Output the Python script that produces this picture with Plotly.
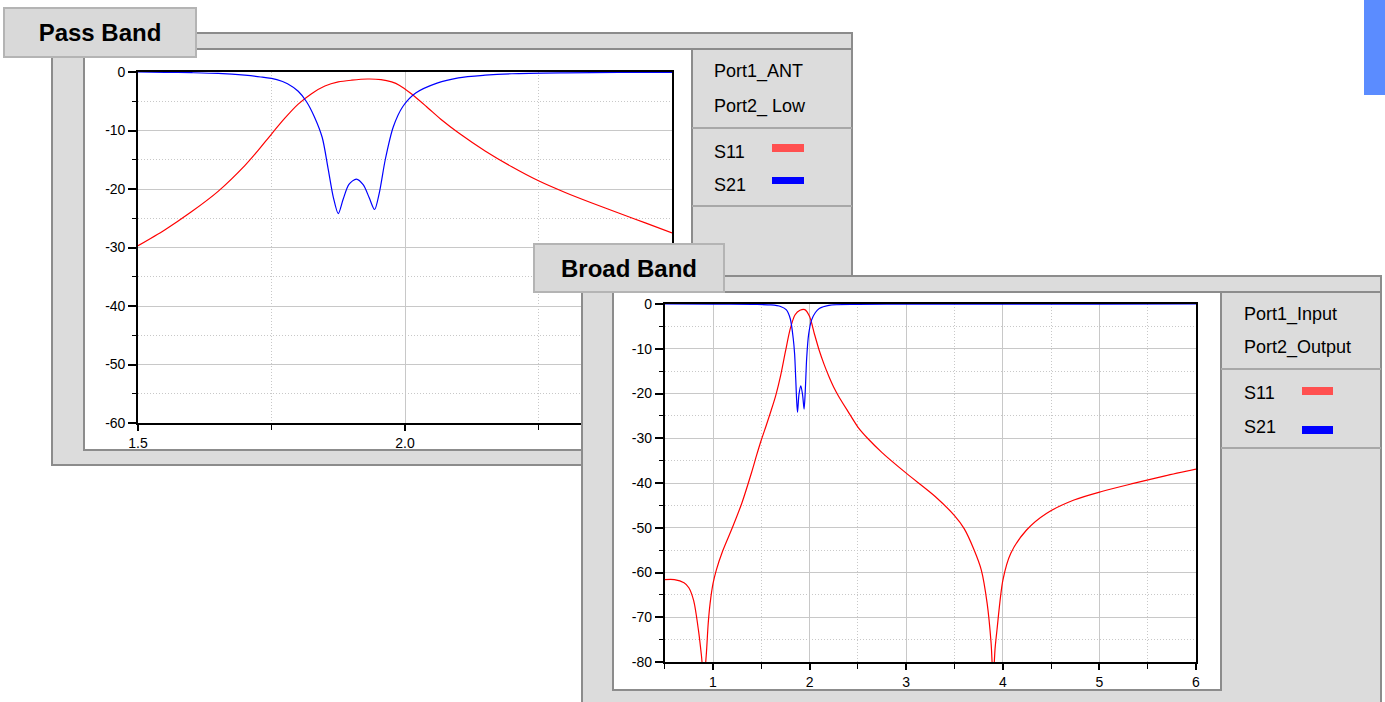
import plotly.graph_objects as go

W, H = 1385, 702

# ---- Pass band sweep (GHz / dB) ----
pb_s11_freq = [1.50, 1.55, 1.60, 1.65, 1.70, 1.725, 1.75, 1.775, 1.80, 1.825, 1.85, 1.875,
               1.90, 1.93, 1.955, 1.975, 1.99, 2.01, 2.04, 2.07, 2.10, 2.15, 2.20, 2.25,
               2.30, 2.35, 2.40, 2.45, 2.50]
pb_s11_db = [-29.7, -27.0, -23.9, -20.4, -16.0, -13.4, -10.6, -7.9, -5.5, -3.7, -2.4, -1.7,
             -1.4, -1.2, -1.3, -1.7, -2.3, -3.6, -5.9, -8.3, -10.4, -13.5, -16.2, -18.6,
             -20.6, -22.4, -24.1, -25.8, -27.5]

pb_s21_freq = [1.50, 1.55, 1.60, 1.65, 1.70, 1.73, 1.76, 1.78, 1.80, 1.815, 1.83, 1.845,
               1.856, 1.866, 1.875, 1.884, 1.895, 1.909, 1.922, 1.933, 1.943, 1.952, 1.963,
               1.978, 1.996, 2.02, 2.06, 2.10, 2.15, 2.20, 2.30, 2.40, 2.50]
pb_s21_db = [0.0, -0.05, -0.12, -0.25, -0.55, -0.85, -1.3, -2.0, -3.3, -5.0, -7.6, -11.2,
             -16.5, -21.5, -24.2, -21.8, -19.2, -18.3, -19.3, -21.5, -23.5, -20.6, -15.0,
             -9.4, -5.9, -3.6, -1.9, -1.0, -0.55, -0.3, -0.15, -0.08, -0.05]

# ---- Broad band sweep (GHz / dB) ----
bb_s11_freq = [0.5, 0.6, 0.7, 0.75, 0.8, 0.85, 0.88, 0.905, 0.93, 0.95, 0.97, 1.0, 1.035,
               1.1, 1.2, 1.3, 1.4, 1.45, 1.5, 1.55, 1.6, 1.65, 1.7, 1.75, 1.8, 1.85, 1.9,
               1.95, 2.0, 2.05, 2.1, 2.15, 2.2, 2.25, 2.3, 2.4, 2.5, 2.6, 2.75, 3.0, 3.3,
               3.5, 3.6, 3.7, 3.777, 3.838, 3.879, 3.9, 3.92, 3.94, 4.001, 4.083, 4.246,
               4.451, 4.737, 5.024, 5.352, 5.68, 6.0]
bb_s11_db = [-61.6, -61.6, -62.3, -63.4, -66.3, -73.0, -78.5, -84.0, -78.5, -71.5, -66.9,
             -62.5, -59.4, -55.2, -50.0, -44.4, -37.6, -33.9, -30.4, -27.2, -23.9, -20.4,
             -16.0, -10.6, -5.5, -2.4, -1.4, -1.25, -2.8, -6.7, -10.4, -13.5, -16.2, -18.6,
             -20.6, -24.1, -27.5, -30.0, -33.2, -37.8, -43.0, -47.3, -50.2, -54.8, -59.4,
             -66.9, -75.8, -84.0, -77.0, -72.8, -61.7, -55.7, -50.5, -46.8, -43.8, -41.9,
             -40.1, -38.4, -36.9]

bb_s21_freq = [0.5, 1.0, 1.4, 1.6, 1.7, 1.76, 1.8, 1.83, 1.845, 1.856, 1.866, 1.875, 1.89,
               1.909, 1.928, 1.943, 1.955, 1.97, 1.99, 2.02, 2.06, 2.1, 2.2, 2.5, 3.0, 4.0,
               5.0, 6.0]
bb_s21_db = [0.0, -0.02, -0.1, -0.2, -0.55, -1.3, -3.3, -7.6, -11.2, -16.5, -21.5, -24.2,
             -20.2, -18.3, -20.4, -23.5, -19.5, -12.0, -6.8, -3.6, -1.9, -1.0, -0.3, -0.1,
             -0.05, -0.02, -0.01, 0.0]

# ---- Tick labels ----
pb_x_ticks = [1.5, 2.0, 2.5]
pb_x_labels = ["1.5", "2.0", "2.5"]
pb_y_ticks = [0, -10, -20, -30, -40, -50, -60]
pb_y_labels = ["0", "-10", "-20", "-30", "-40", "-50", "-60"]
bb_x_ticks = [1, 2, 3, 4, 5, 6]
bb_x_labels = ["1", "2", "3", "4", "5", "6"]
bb_y_ticks = [0, -10, -20, -30, -40, -50, -60, -70, -80]
bb_y_labels = ["0", "-10", "-20", "-30", "-40", "-50", "-60", "-70", "-80"]

RED = "#ff0000"
BLUE = "#0000ff"
FONT = "Liberation Sans, Arial, sans-serif"
FRAME = "#dcdcdc"
EDGE = "#8c8c8c"
SEP = "#a8a8a8"
GRID = "#c8c8c8"
MINOR_DASH = "1px,2px"


def fx(x):
    return x / W


def fy(y):
    return 1 - y / H


fig = go.Figure()

line_kw = dict(width=1.2, shape="spline", smoothing=0.8)

# pass band curves
fig.add_trace(go.Scatter(x=pb_s11_freq, y=pb_s11_db, mode="lines", xaxis="x", yaxis="y",
                         line=dict(color=RED, **line_kw)))
fig.add_trace(go.Scatter(x=pb_s21_freq, y=pb_s21_db, mode="lines", xaxis="x", yaxis="y",
                         line=dict(color=BLUE, **line_kw)))
# backdrop subplot for the broad band panel (keeps it above the pass band chart)
fig.add_trace(go.Scatter(x=[None], y=[None], mode="lines", xaxis="x2", yaxis="y2",
                         hoverinfo="skip"))
# broad band curves
fig.add_trace(go.Scatter(x=bb_s11_freq, y=bb_s11_db, mode="lines", xaxis="x3", yaxis="y3",
                         line=dict(color=RED, **line_kw)))
fig.add_trace(go.Scatter(x=bb_s21_freq, y=bb_s21_db, mode="lines", xaxis="x3", yaxis="y3",
                         line=dict(color=BLUE, **line_kw)))

shapes = []


def paper_rect(x0, y0, x1, y1, fill, line=None, width=0, layer="below"):
    shapes.append(dict(type="rect", xref="paper", yref="paper", layer=layer,
                       x0=fx(x0), x1=fx(x1), y0=fy(y0), y1=fy(y1), fillcolor=fill,
                       line=dict(color=line or fill, width=width)))


def paper_line(x0, y0, x1, y1, color, width):
    shapes.append(dict(type="line", xref="paper", yref="paper", layer="below",
                       x0=fx(x0), x1=fx(x1), y0=fy(y0), y1=fy(y1),
                       line=dict(color=color, width=width)))


def panel_rect(x0, y0, x1, y1, fill, line, width):
    shapes.append(dict(type="rect", xref="x2", yref="y2", layer="below",
                       x0=x0, x1=x1, y0=y0, y1=y1, fillcolor=fill,
                       line=dict(color=line, width=width)))


def panel_line(x0, y0, x1, y1, color, width):
    shapes.append(dict(type="line", xref="x2", yref="y2", layer="below",
                       x0=x0, x1=x1, y0=y0, y1=y1, line=dict(color=color, width=width)))


# pass band frame
paper_rect(52, 33, 852, 465, FRAME, EDGE, 2)
paper_rect(84, 49, 692, 450, "white", EDGE, 2)
paper_line(692, 49, 852, 49, EDGE, 2)
paper_line(692, 128, 852, 128, SEP, 2)
paper_line(692, 206, 852, 206, SEP, 2)

# broad band frame (drawn in the backdrop subplot, pixel-like units)
panel_rect(582, 276, 1381, 720, FRAME, EDGE, 2)
panel_rect(613, 292, 1221, 690, "white", EDGE, 2)
panel_line(1221, 292, 1381, 292, EDGE, 2)
panel_line(1221, 369, 1381, 369, SEP, 2)
panel_line(1221, 448, 1381, 448, SEP, 2)

# legend swatches
paper_rect(772, 144, 804, 152, "#ff5050", layer="above")
paper_rect(772, 177, 804, 184, BLUE, layer="above")
paper_rect(1302, 387, 1333, 395, "#ff5050", layer="above")
paper_rect(1302, 426, 1333, 434, BLUE, layer="above")

# corner tab
paper_rect(1364, 0, 1385, 95, "#5b8cff", layer="above")

annotations = []


def label(text, x, y, size=18):
    annotations.append(dict(text=text, xref="paper", yref="paper", x=fx(x), y=fy(y),
                            xanchor="left", yanchor="middle", showarrow=False,
                            font=dict(family=FONT, size=size, color="#000")))


def title_box(text, x0, y0, x1, y1):
    annotations.append(dict(text=text, xref="paper", yref="paper", x=fx(x0), y=fy(y0),
                            xanchor="left", yanchor="top", showarrow=False,
                            width=x1 - x0 - 4, height=y1 - y0 - 4, borderwidth=2,
                            borderpad=0, bgcolor="#d9d9d9", bordercolor="#b4b4b4",
                            align="center", valign="middle",
                            font=dict(family=FONT, size=24, color="#000", weight="bold")))


title_box("Pass Band", 3, 7, 197, 58)
title_box("Broad Band", 533, 243, 725, 293)

label("Port1_ANT", 712, 72)
label("Port2_ Low", 712, 106)
label("S11", 712, 152)
label("S21", 712, 185)
label("Port1_Input", 1242, 314)
label("Port2_Output", 1242, 347)
label("S11", 1242, 393)
label("S21", 1242, 427)

tickfont = dict(family=FONT, size=14, color="#000")


def xaxis_style(rng, ticks, labels, minor_step, minor0, domain, anchor):
    return dict(domain=domain, anchor=anchor, range=rng, tickmode="array", tickvals=ticks,
                ticktext=labels, ticks="outside", ticklen=6, tickwidth=1.5, tickcolor="#000",
                showline=True, linecolor="#000", linewidth=1.6, mirror=True,
                showgrid=True, gridcolor=GRID, gridwidth=1, zeroline=False,
                tickfont=tickfont, layer="below traces", automargin=False,
                minor=dict(tickmode="linear", tick0=minor0, dtick=minor_step, ticks="outside",
                           ticklen=5, tickwidth=1.2, tickcolor="#000", showgrid=True,
                           gridcolor=GRID, gridwidth=1, griddash=MINOR_DASH))


def yaxis_style(rng, ticks, labels, domain, anchor):
    return dict(domain=domain, anchor=anchor, range=rng, tickmode="array", tickvals=ticks,
                ticktext=labels, ticks="outside", ticklen=8, tickwidth=1.5, tickcolor="#000",
                showline=True, linecolor="#000", linewidth=1.6, mirror=True,
                showgrid=True, gridcolor=GRID, gridwidth=1, zeroline=False,
                tickfont=tickfont, layer="below traces", automargin=False,
                minor=dict(tickmode="linear", tick0=0, dtick=5, ticks="outside",
                           ticklen=4, tickwidth=1.2, tickcolor="#000", showgrid=True,
                           gridcolor=GRID, gridwidth=1, griddash=MINOR_DASH))


fig.update_layout(
    template="none",
    width=W, height=H, autosize=False,
    margin=dict(l=0, r=0, t=0, b=0, pad=0, autoexpand=False),
    paper_bgcolor="white", plot_bgcolor="white",
    showlegend=False,
    font=dict(family=FONT, color="#000"),
    xaxis=xaxis_style([1.5, 2.5], pb_x_ticks, pb_x_labels, 0.25, 1.5,
                      [fx(138), fx(672)], "y"),
    yaxis=yaxis_style([-60, 0], pb_y_ticks, pb_y_labels, [fy(423), fy(72)], "x"),
    xaxis2=dict(domain=[fx(581), fx(1382)], anchor="y2", range=[581, 1382], visible=False,
                fixedrange=True, automargin=False),
    yaxis2=dict(domain=[0, fy(275)], anchor="x2", range=[702, 275], visible=False,
                fixedrange=True, automargin=False),
    xaxis3=xaxis_style([0.5, 6], bb_x_ticks, bb_x_labels, 0.5, 0.5,
                       [fx(664.7), fx(1196)], "y3"),
    yaxis3=yaxis_style([-80, 0], bb_y_ticks, bb_y_labels, [fy(662), fy(304)], "x3"),
    shapes=shapes,
    annotations=annotations,
)

fig.write_html("out.html")
